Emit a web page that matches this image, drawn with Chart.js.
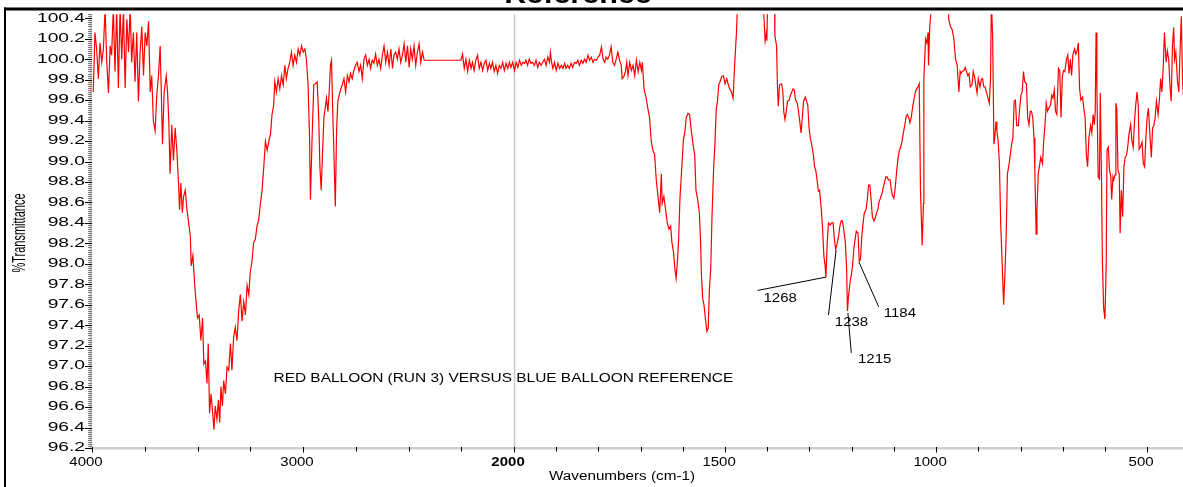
<!DOCTYPE html>
<html>
<head>
<meta charset="utf-8">
<script src="https://cdn.jsdelivr.net/npm/chart.js@4.4.1/dist/chart.umd.min.js"></script>
<style>
html,body{margin:0;padding:0;background:#fff;overflow:hidden}
#wrap{position:relative;width:1183px;height:487px}
canvas{display:block}
</style>
</head>
<body>
<div id="wrap"><canvas id="c" width="1183" height="487"></canvas></div>
<script>
// ---------------- data: [wavenumber (cm-1), %T] ----------------
const segOH = [[3994,99.68],[3986,100.26],[3978,100.10],[3970,99.81],[3962,100.16],[3954,99.97],[3946,100.10],[3938,100.5],[3930,99.97],[3922,99.67],[3914,100.13],[3907,100.04],[3899,100.5],[3891,99.88],[3883,100.5],[3875,99.72],[3867,100.5],[3859,100.00],[3851,100.5],[3843,99.72],[3835,100.39],[3827,100.07],[3819,100.5],[3812,99.97],[3804,100.26],[3796,99.78],[3788,100.26],[3780,99.59],[3772,100.07],[3764,100.32],[3756,99.84],[3748,100.26],[3740,100.13],[3732,100.37],[3724,99.68],[3717,99.84],[3709,99.39],[3701,99.30],[3693,99.65],[3685,99.84],[3677,100.13],[3672,99.72],[3666,99.17],[3658,99.68],[3648,99.84],[3642,99.68],[3636,99.39],[3630,98.88],[3622,99.36],[3614,99.01],[3606,99.33],[3598,99.11],[3590,98.79],[3585,98.53],[3579,98.79],[3572,98.50],[3566,98.66],[3558,98.72],[3550,98.53],[3542,98.40],[3534,98.27],[3530,97.98],[3522,98.08],[3514,97.82],[3506,97.60],[3500,97.47],[3492,97.50],[3484,97.25],[3476,97.47],[3470,97.02],[3462,97.05],[3455,96.83],[3449,97.22],[3443,96.54],[3436,96.73],[3428,96.54],[3422,96.38],[3416,96.61],[3408,96.48],[3401,96.67],[3395,96.45],[3389,96.80],[3382,96.61],[3376,96.86],[3368,96.73],[3360,96.99],[3352,96.96],[3344,97.22],[3337,96.96],[3329,97.28],[3321,97.38],[3313,97.25],[3305,97.54],[3297,97.70],[3289,97.44],[3281,97.63],[3273,97.50],[3265,97.79],[3257,97.70],[3250,97.92],[3242,98.02],[3234,98.21],[3226,98.24],[3218,98.37],[3210,98.43],[3202,98.59],[3194,98.72],[3186,98.95],[3178,99.20],[3170,99.11],[3162,99.20],[3154,99.27],[3147,99.46],[3139,99.55],[3134,99.78],[3126,99.68],[3118,99.81],[3110,99.71],[3102,99.84],[3094,99.75],[3086,99.94],[3079,99.81],[3071,99.91],[3063,99.97],[3055,100.07],[3047,99.94],[3039,100.04],[3031,99.97],[3023,100.10],[3015,100.04],[3007,100.13],[2999,100.07],[2991,100.10],[2984,100.00],[2976,99.75],[2969,99.23],[2965,98.63],[2957,99.23],[2949,99.75],[2941,99.76],[2933,99.78],[2926,99.46],[2920,98.95],[2914,98.72],[2907,99.11],[2901,99.43],[2895,99.52],[2889,99.62],[2882,99.49],[2876,99.68],[2870,99.94],[2865,99.99],[2860,99.55],[2854,99.11],[2847,98.56],[2841,99.30],[2835,99.59],[2825,99.68],[2814,99.75],[2806,99.81],[2798,99.68],[2790,99.84],[2782,99.78],[2775,99.86],[2767,99.81],[2759,99.89],[2751,99.94],[2743,99.97],[2735,99.88],[2727,99.94],[2719,99.81],[2711,100.00],[2703,100.04],[2695,99.94],[2687,100.00],[2680,99.91],[2672,99.99],[2664,99.96],[2656,100.05],[2648,99.94],[2640,100.00],[2632,99.91],[2624,100.04],[2616,100.13],[2608,99.97],[2600,100.07],[2592,99.94],[2584,100.10],[2576,99.91],[2569,100.04],[2561,100.07],[2553,100.00],[2545,100.10],[2537,99.97]];

const segMid = [[2529,100.04],[2521,100.15],[2513,99.97],[2505,100.13],[2497,99.92],[2490,100.10],[2482,100.00],[2474,100.13],[2466,99.94],[2458,100.07],[2450,100.15],[2442,99.97],[2434,100.07],[2426,99.99],[2418,99.99],[2252,99.99],[2244,100.05],[2236,99.91],[2228,100.00],[2220,99.88],[2212,99.99],[2204,99.91],[2197,99.97],[2189,99.89],[2181,99.99],[2173,100.04],[2165,99.91],[2157,99.97],[2149,99.89],[2141,99.96],[2133,99.99],[2125,99.89],[2117,99.96],[2110,99.91],[2102,99.97],[2094,99.88],[2086,99.94],[2078,99.86],[2070,99.94],[2062,99.91],[2054,99.97],[2046,99.89],[2038,99.96],[2030,99.91],[2022,99.97],[2015,99.92],[2007,99.97],[1999,99.89],[1995,99.97],[1991,99.92],[1987,99.99],[1983,99.94],[1979,99.97],[1975,99.96],[1972,99.99],[1968,99.94],[1964,100.00],[1960,99.96],[1956,99.97],[1952,99.94],[1948,99.99],[1944,99.92],[1940,99.97],[1936,99.94],[1932,99.97],[1928,100.00],[1924,99.94],[1920,100.02],[1916,99.97],[1914,100.07],[1911,99.97],[1908,99.91],[1904,99.97],[1900,99.89],[1896,99.96],[1892,99.91],[1888,99.94],[1884,99.91],[1880,99.96],[1877,99.91],[1873,99.94],[1869,99.91],[1865,99.96],[1861,99.92],[1857,99.97],[1853,99.96],[1849,99.99],[1845,99.94],[1841,99.99],[1837,99.96],[1833,100.00],[1829,99.97],[1825,100.04],[1821,99.99],[1817,100.02],[1813,99.97],[1809,100.00],[1805,99.99],[1801,100.02],[1797,100.04],[1793,100.12],[1789,100.00],[1785,99.97],[1782,100.02],[1778,100.00],[1774,100.04],[1770,100.12],[1766,99.97],[1762,99.94],[1758,100.00],[1754,100.07],[1750,99.99],[1746,99.94],[1744,99.81],[1740,99.83],[1736,99.88],[1733,99.97],[1730,99.84],[1726,99.97],[1722,99.89],[1718,99.94],[1714,99.84],[1710,99.99],[1706,99.88],[1702,99.97],[1698,99.89],[1696,99.97],[1692,99.71],[1687,99.62],[1683,99.52],[1679,99.43],[1675,99.20],[1671,99.11],[1667,99.07],[1663,98.82],[1659,98.66],[1655,98.50],[1651,98.88],[1649,98.59],[1645,98.66],[1641,98.53],[1637,98.40],[1633,98.34],[1629,98.37],[1626,98.21],[1622,98.11],[1619,97.95],[1616,97.86],[1613,98.02],[1610,98.24],[1607,98.63],[1603,98.91],[1599,99.20],[1595,99.30],[1592,99.43],[1588,99.47],[1584,99.46],[1580,99.30],[1576,99.17],[1572,99.07],[1569,98.72],[1565,98.63],[1561,98.50],[1558,98.21],[1556,97.89],[1553,97.66],[1550,97.60],[1546,97.44],[1543,97.34],[1540,97.37],[1537,97.76],[1534,97.95],[1531,98.46],[1527,98.95],[1524,99.17],[1521,99.51],[1518,99.59],[1515,99.75],[1512,99.78],[1508,99.83],[1504,99.84],[1500,99.76],[1496,99.81],[1493,99.76],[1489,99.71],[1485,99.68],[1481,99.62],[1477,99.97],[1473,100.26],[1470,100.6]];

const segFinger = [[1440,100.7],[1410,100.6],[1408,100.42],[1405,100.18],[1402,100.26],[1401,100.18],[1399,100.6],[1383,100.6],[1382,100.23],[1378,100.13],[1376,99.75],[1374,99.54],[1371,99.75],[1366,99.76],[1363,99.68],[1361,99.49],[1358,99.41],[1355,99.49],[1352,99.59],[1348,99.60],[1345,99.65],[1342,99.68],[1339,99.71],[1336,99.70],[1333,99.60],[1329,99.57],[1326,99.49],[1323,99.39],[1320,99.28],[1317,99.43],[1314,99.59],[1310,99.63],[1307,99.59],[1304,99.55],[1301,99.33],[1298,99.23],[1295,99.17],[1291,99.07],[1288,98.95],[1285,98.91],[1282,98.82],[1279,98.71],[1276,98.72],[1272,98.53],[1269,98.35],[1266,98.08],[1263,97.98],[1261,97.87],[1258,98.21],[1255,98.40],[1251,98.38],[1247,98.40],[1244,98.40],[1241,98.24],[1238,98.14],[1234,98.21],[1231,98.27],[1228,98.37],[1225,98.42],[1222,98.42],[1219,98.34],[1215,98.21],[1212,97.95],[1210,97.54],[1208,97.66],[1204,97.82],[1201,97.89],[1198,97.98],[1195,98.14],[1192,98.24],[1189,98.32],[1185,98.30],[1182,98.02],[1179,98.05],[1176,98.27],[1173,98.40],[1170,98.50],[1166,98.53],[1163,98.63],[1160,98.77],[1157,98.77],[1154,98.63],[1151,98.46],[1147,98.42],[1144,98.45],[1141,98.50],[1138,98.53],[1135,98.61],[1132,98.64],[1128,98.69],[1125,98.75],[1122,98.80],[1119,98.85],[1116,98.85],[1113,98.82],[1109,98.82],[1106,98.72],[1103,98.66],[1100,98.64],[1097,98.74],[1094,98.88],[1090,99.04],[1087,99.11],[1084,99.14],[1081,99.19],[1078,99.27],[1074,99.36],[1071,99.44],[1068,99.46],[1065,99.43],[1062,99.38],[1059,99.43],[1056,99.52],[1052,99.62],[1049,99.68],[1046,99.71],[1043,99.73],[1040,99.76],[1037,98.72],[1033,98.18],[1030,98.59],[1029,99.81],[1025,100.20],[1022,100.16],[1019,100.26],[1018,99.94],[1015,100.32],[1013,100.42],[1005,100.7],[972,100.6],[970,100.39],[966,100.32],[962,100.29],[958,100.20],[954,100.00],[950,99.94],[946,99.68],[943,99.88]];

const segLow = [[941,99.86],[938,99.88],[934,99.89],[931,99.92],[928,99.88],[925,99.84],[922,99.86],[919,99.73],[915,99.75],[912,99.88],[909,99.83],[906,99.75],[903,99.67],[900,99.81],[896,99.73],[893,99.80],[890,99.81],[887,99.73],[884,99.73],[881,99.68],[877,99.62],[874,99.57],[871,99.81],[869,100.6],[866,100.20],[863,99.17],[861,99.23],[858,99.39],[856,99.30],[853,99.20],[850,98.98],[847,98.40],[843,97.95],[840,97.60],[837,97.89],[834,98.27],[831,98.88],[828,98.95],[824,99.07],[821,99.17],[818,99.23],[815,99.59],[812,99.60],[809,99.35],[805,99.35],[802,99.52],[799,99.65],[796,99.68],[793,99.88],[790,99.78],[786,99.76],[783,99.43],[780,99.36],[777,99.49],[774,99.49],[771,99.43],[768,99.23],[766,98.91],[763,98.29],[761,98.53],[758,98.88],[755,98.96],[752,99.04],[748,98.98],[745,99.20],[742,99.36],[739,99.57],[736,99.49],[733,99.52],[729,99.55],[726,99.65],[723,99.62],[720,99.70],[717,99.49],[714,99.46],[710,99.91],[707,99.89],[704,99.43],[701,99.83],[698,99.89],[695,99.88],[691,100.00],[688,100.04],[685,99.86],[682,100.00],[679,99.84],[676,100.04],[672,100.10],[669,100.05],[666,100.08],[663,100.16],[660,99.71],[657,99.60],[653,99.63],[650,99.52],[647,99.43],[644,99.07],[641,98.95],[638,99.23],[634,99.35],[631,99.28],[628,99.46],[625,99.36],[623,99.49],[621,100.26],[619,99.71],[616,98.85],[613,98.83],[611,99.67],[608,98.80],[606,98.02],[603,97.57],[600,97.46],[597,97.98],[595,99.11],[592,99.14],[589,98.91],[586,98.85],[584,98.63],[581,98.85],[579,98.82],[576,98.87],[574,99.57],[572,99.52],[569,98.91],[566,98.88],[564,98.30],[561,98.72],[558,98.46],[555,98.95],[552,99.04],[549,99.06],[546,99.14],[543,99.27],[539,99.36],[536,99.20],[533,99.14],[530,99.39],[527,99.55],[524,99.68],[521,99.55],[519,99.12],[516,99.14],[512,99.19],[509,98.98],[506,98.95],[503,99.23],[500,99.43],[497,99.52],[493,99.23],[490,99.04],[487,99.33],[484,99.35],[481,99.43],[478,99.59],[474,99.46],[471,99.60],[468,99.81],[465,99.68],[462,99.91],[459,100.26],[455,99.97],[452,100.08],[449,100.00],[446,99.75],[443,99.59],[440,100.13],[437,100.31],[435,100.00],[432,100.07],[428,99.78],[425,99.68],[422,100.07],[419,100.42],[416,99.78],[413,99.59],[410,99.46]];

const xTickLabels = [4000, 3000, 2000, 1500, 1000, 500];
const xMinorTicks = [3750, 3500, 3250, 2750, 2500, 2250, 1900, 1800, 1700, 1600, 1400, 1300, 1200, 1100, 900, 800, 700, 600];
const yTickLabels = [96.2, 96.4, 96.6, 96.8, 97.0, 97.2, 97.4, 97.6, 97.8, 98.0, 98.2, 98.4, 98.6, 98.8, 99.0, 99.2, 99.4, 99.6, 99.8, 100.0, 100.2, 100.4];
const peakLabels = ['1268', '1238', '1215', '1184'];

const titleText = 'Reference';
const captionText = 'RED BALLOON (RUN 3) VERSUS BLUE BALLOON REFERENCE';
const xTitle = 'Wavenumbers (cm-1)';
const yTitle = '%Transmittance';

// ---------------- axis with scale change at 2000 cm-1 ----------------
const BREAK = 2000;
function toAxis(w) { return w >= BREAK ? (4000 - w) / 2 : (4000 - BREAK) / 2 + (BREAK - w); }
function fromAxis(u) { return u <= 1000 ? 4000 - 2 * u : BREAK - (u - 1000); }
const X_START = 4000, X_END = 415;

// callouts for labelled peaks (data coordinates)
const callouts = [
  { text: peakLabels[0], from: [1423, 97.74], to: [1261, 97.87], at: [1409, 97.66] },
  { text: peakLabels[1], from: [1255, 97.50], to: [1237, 98.13], at: [1240, 97.43] },
  { text: peakLabels[2], from: [1201, 97.13], to: [1209, 97.52], at: [1185, 97.06] },
  { text: peakLabels[3], from: [1136, 97.58], to: [1182, 98.01], at: [1124, 97.51] }
];
const captionAt = [3140, 96.875];

const FONT = '"Liberation Sans", Arial, Helvetica, sans-serif';

function withStretch(ctx, sx, dx, draw) {
  const native = CanvasRenderingContext2D.prototype.fillText;
  ctx.fillText = function (text, x, y, maxWidth) {
    this.save();
    this.translate(x + dx, y);
    this.scale(sx, 1);
    if (maxWidth === undefined || maxWidth === null) native.call(this, text, 0, 0);
    else native.call(this, text, 0, 0, maxWidth / sx);
    this.restore();
  };
  try { draw(); } finally { delete ctx.fillText; }
}

function text(ctx, str, x, y, font, align, baseline, sx) {
  ctx.save();
  ctx.font = font;
  ctx.textAlign = align;
  ctx.textBaseline = baseline;
  ctx.fillStyle = '#000';
  ctx.translate(x, y);
  ctx.scale(sx, 1);
  ctx.fillText(str, 0, 0);
  ctx.restore();
}

const stretchLabels = {
  id: 'stretchLabels',
  afterLayout(chart) {
    [['x', 1.2, -6], ['y', 1.6, 0]].forEach(([id, sx, dx]) => {
      const s = chart.scales[id];
      if (s && !s.__stretched) {
        const orig = s.drawLabels;
        s.drawLabels = function (area) {
          withStretch(chart.ctx, sx, dx, () => orig.call(this, area));
        };
        s.__stretched = true;
      }
    });
  }
};

const deco = {
  id: 'deco',
  beforeDatasetsDraw(chart) {
    const { ctx, chartArea: a, scales: { x } } = chart;
    ctx.save();
    const xb = Math.round(x.getPixelForValue(toAxis(BREAK))) + 0.5;
    ctx.strokeStyle = '#c8c8c8';
    ctx.lineWidth = 1.5;
    ctx.beginPath(); ctx.moveTo(xb, a.top); ctx.lineTo(xb, a.bottom); ctx.stroke();
    ctx.restore();
  },
  afterDatasetsDraw(chart) {
    const { ctx, chartArea: a, scales: { x, y } } = chart;
    ctx.save();
    ctx.fillStyle = '#cfcfcf';
    ctx.fillRect(a.left, a.bottom - 1, a.right - a.left, 2.5);
    ctx.fillRect(a.left - 2.5, a.top, 2.5, a.bottom - a.top + 1.5);
    ctx.strokeStyle = '#7a7a7a';
    ctx.lineWidth = 1;
    ctx.beginPath();
    for (let k = 0; ; k++) {
      const v = 96.2 + k * 0.02;
      if (v > y.max + 1e-9) break;
      const py = Math.round(y.getPixelForValue(v)) + 0.5;
      ctx.moveTo(a.left - 4, py); ctx.lineTo(a.left, py);
    }
    ctx.stroke();
    ctx.strokeStyle = '#000';
    ctx.beginPath();
    yTickLabels.forEach(v => {
      const py = Math.round(y.getPixelForValue(v)) + 0.5;
      ctx.moveTo(a.left - 7, py); ctx.lineTo(a.left, py);
    });
    ctx.stroke();
    ctx.beginPath();
    xMinorTicks.forEach(w => {
      const px = Math.round(x.getPixelForValue(toAxis(w))) + 0.5;
      ctx.moveTo(px, a.bottom - 1); ctx.lineTo(px, a.bottom + 3.5);
    });
    xTickLabels.forEach(w => {
      const px = Math.round(x.getPixelForValue(toAxis(w))) + 0.5;
      ctx.moveTo(px, a.bottom - 1); ctx.lineTo(px, a.bottom + 4.5);
    });
    ctx.stroke();
    ctx.restore();

    ctx.save();
    ctx.strokeStyle = '#000';
    ctx.lineWidth = 1;
    callouts.forEach(c => {
      ctx.beginPath();
      ctx.moveTo(x.getPixelForValue(toAxis(c.from[0])), y.getPixelForValue(c.from[1]));
      ctx.lineTo(x.getPixelForValue(toAxis(c.to[0])), y.getPixelForValue(c.to[1]));
      ctx.stroke();
      text(ctx, c.text, x.getPixelForValue(toAxis(c.at[0])), y.getPixelForValue(c.at[1]),
        '12.5px ' + FONT, 'left', 'middle', 1.2);
    });
    ctx.restore();
    text(ctx, captionText, x.getPixelForValue(toAxis(captionAt[0])), y.getPixelForValue(captionAt[1]),
      '12.5px ' + FONT, 'left', 'middle', 1.235);
  },
  afterDraw(chart) {
    const { ctx } = chart;
    text(ctx, xTitle, 622, 476.5, '12.5px ' + FONT, 'center', 'middle', 1.22);
    ctx.save();
    ctx.translate(20, 233);
    ctx.scale(1.6, 1);
    ctx.rotate(-Math.PI / 2);
    ctx.font = '11px ' + FONT;
    ctx.textAlign = 'center';
    ctx.textBaseline = 'middle';
    ctx.fillStyle = '#000';
    ctx.fillText(yTitle, 0, 0);
    ctx.restore();
    ctx.save();
    ctx.fillStyle = '#000';
    ctx.fillRect(4, 7.5, 2, chart.height - 7.5);
    ctx.fillRect(4, 7.5, chart.width - 4, 3);
    ctx.restore();
    text(ctx, titleText, 578, 2.5, 'bold 25px ' + FONT, 'center', 'alphabetic', 1.22);
  }
};

const points = [...segOH, ...segMid, ...segFinger, ...segLow].map(([w, t]) => ({ x: toAxis(w), y: t }));

new Chart(document.getElementById('c'), {
  type: 'line',
  data: {
    datasets: [{
      data: points,
      borderColor: '#ff0000',
      borderWidth: 1.2,
      pointRadius: 0,
      tension: 0,
      fill: false
    }]
  },
  options: {
    responsive: false,
    devicePixelRatio: 1,
    animation: false,
    events: [],
    layout: { padding: { top: 10, left: 0, right: 0, bottom: 0 } },
    plugins: { legend: { display: false }, tooltip: { enabled: false }, title: { display: false } },
    scales: {
      x: {
        type: 'linear',
        min: toAxis(X_START),
        max: toAxis(X_END),
        grid: { display: false, drawTicks: false },
        border: { display: false },
        afterFit(s) { s.height = 39; },
        afterBuildTicks(s) { s.ticks = xTickLabels.map(w => ({ value: toAxis(w) })); },
        ticks: {
          autoSkip: false,
          maxRotation: 0,
          padding: 7,
          color: '#000',
          font: (c) => ({ family: FONT, size: 12.5, weight: (c.tick && Math.abs(c.tick.value - toAxis(BREAK)) < 1e-6) ? 'bold' : 'normal' }),
          callback: (v) => String(Math.round(fromAxis(v)))
        }
      },
      y: {
        type: 'linear',
        min: 96.2,
        max: 100.44,
        grid: { display: false, drawTicks: false },
        border: { display: false },
        afterFit(s) { s.width = 92; },
        afterBuildTicks(s) { s.ticks = yTickLabels.map(v => ({ value: v })); },
        ticks: {
          autoSkip: false,
          padding: 7,
          color: '#000',
          font: { family: FONT, size: 12 },
          callback: (v) => Number(v).toFixed(1)
        }
      }
    }
  },
  plugins: [stretchLabels, deco]
});
</script>
</body>
</html>
